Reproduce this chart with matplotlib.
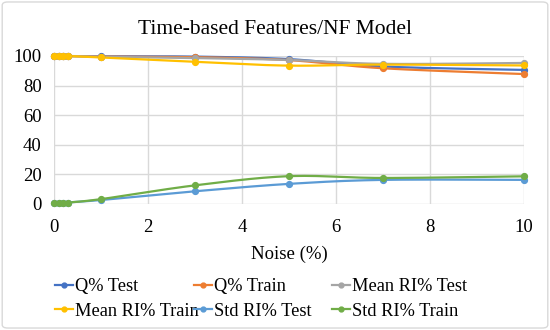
import numpy as np
import matplotlib
matplotlib.use("Agg")
import matplotlib.pyplot as plt
from matplotlib.lines import Line2D
from matplotlib.patches import FancyBboxPatch

plt.rcParams['font.family'] = ['Liberation Serif', 'DejaVu Serif']

noise = [0, 0.1, 0.2, 0.3, 1, 3, 5, 7, 10]
q_test = [100, 100, 100, 100, 99.8, 99.6, 97.9, 92.9, 90.6]
q_train = [100, 100, 100, 100, 99.6, 99.2, 97.2, 91.7, 87.8]
mean_ri_test = [100, 100, 100, 100, 99.5, 98.6, 97.3, 94.7, 95.3]
mean_ri_train = [100, 100, 100, 100, 99.0, 96.0, 93.5, 94.2, 93.6]
std_ri_test = [0.5, 0.6, 0.8, 1.0, 2.7, 8.6, 13.6, 16.3, 16.3]
std_ri_train = [0.5, 0.6, 0.8, 1.0, 3.3, 12.6, 18.8, 17.6, 18.7]

series = [
    ("Q% Test", q_test, "#4472C4"),
    ("Q% Train", q_train, "#ED7D31"),
    ("Mean RI% Test", mean_ri_test, "#A5A5A5"),
    ("Mean RI% Train", mean_ri_train, "#FFC000"),
    ("Std RI% Test", std_ri_test, "#5B9BD5"),
    ("Std RI% Train", std_ri_train, "#70AD47"),
]


def smooth(x, y, sx=10.0, sy=100.0 * 148 / 470, n=30):
    # Excel-like smoothed line: Catmull-Rom Bezier in screen-proportional space
    P = np.column_stack([np.asarray(x, float) / sx, np.asarray(y, float) / sy])
    out = [P[0]]
    t = np.linspace(0, 1, n)[1:]
    for i in range(len(P) - 1):
        p0 = P[i - 1] if i > 0 else P[i]
        p1, p2 = P[i], P[i + 1]
        p3 = P[i + 2] if i + 2 < len(P) else P[i + 1]
        c1 = p1 + (p2 - p0) / 6.0
        c2 = p2 - (p3 - p1) / 6.0
        for tt in t:
            b = ((1 - tt) ** 3) * p1 + 3 * ((1 - tt) ** 2) * tt * c1 + 3 * (1 - tt) * tt ** 2 * c2 + tt ** 3 * p2
            out.append(b)
    out = np.array(out)
    return out[:, 0] * sx, out[:, 1] * sy


fig = plt.figure(figsize=(5.5, 3.3), dpi=100)
fig.patch.set_facecolor("white")
border = FancyBboxPatch((0.004, 0.006), 0.992, 0.988, boxstyle="round,pad=0,rounding_size=0.01",
                        transform=fig.transFigure, facecolor="none", edgecolor="#D9D9D9",
                        linewidth=1.0, zorder=-5)
fig.patches.append(border)

ax = fig.add_axes([54 / 550, 126 / 330, 470 / 550, 148 / 330])
ax.set_facecolor("none")
for label, vals, col in series:
    xs, ys = smooth(noise, vals)
    ax.plot(xs, ys, color=col, linewidth=1.6, solid_capstyle="round", zorder=3, clip_on=False)
    ax.plot(noise, vals, linestyle="none", marker="o", markersize=4.2, color=col, zorder=4, clip_on=False)

ax.set_xlim(0, 10)
ax.set_ylim(0, 100)
ax.set_xticks(np.arange(0, 11, 2))
ax.set_yticks(np.arange(0, 101, 20))
ax.grid(True, color="#D9D9D9", linewidth=1.0)
ax.set_axisbelow(True)
for s in ax.spines.values():
    s.set_visible(False)
ax.tick_params(axis="x", length=0, labelsize=13.5, pad=11, colors="black")
ax.tick_params(axis="y", length=0, labelsize=13.5, pad=9, colors="black")
ax.set_xlabel("Noise (%)", fontsize=13.5, labelpad=7)
fig.text(0.5, 1 - 30 / 330, "Time-based Features/NF Model", fontsize=15.5, ha="center", va="center")

handles = [Line2D([0], [0], color=c, linewidth=1.6, marker="o", markersize=3.5) for _, _, c in series]
labels = [l for l, _, _ in series]
col_x = [55, 194, 332]
for ci in range(3):
    idx = [ci, ci + 3]
    fig.legend([handles[i] for i in idx], [labels[i] for i in idx], ncol=1, loc="upper left",
               bbox_to_anchor=(col_x[ci] / 550, 1 - 278 / 330),
               frameon=False, fontsize=13.2, handlelength=1.0, handletextpad=0.08,
               labelspacing=0.42, borderpad=0, borderaxespad=0)

fig.savefig("out.png", dpi=100)
